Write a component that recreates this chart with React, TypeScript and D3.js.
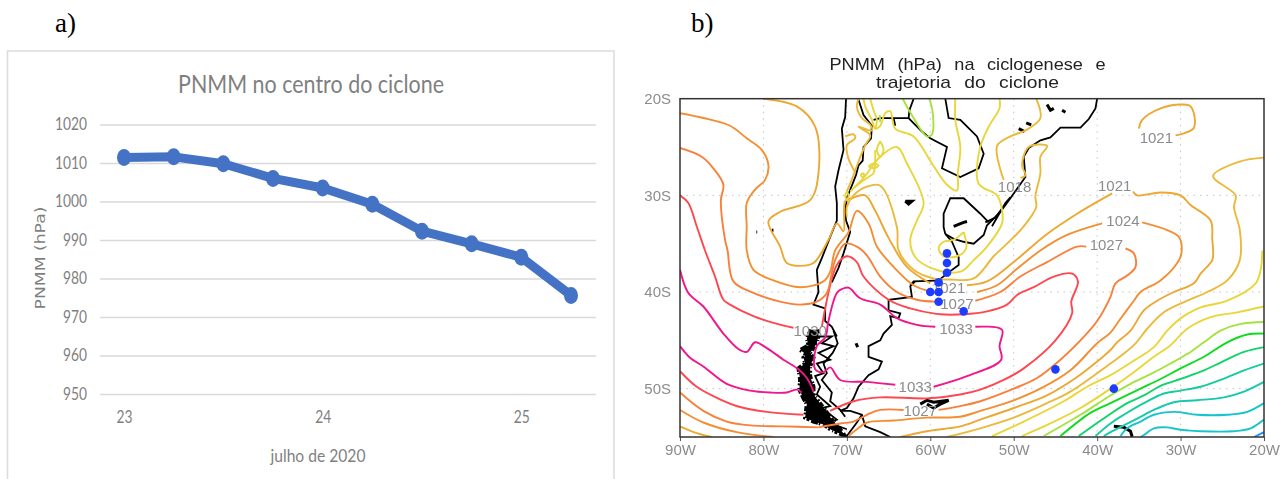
import React, { useEffect, useRef } from "react";
import * as d3 from "d3";

type Pt = [number, number];

// panel a) pressure in the cyclone centre, every 6 h
const timeSteps = [23, 23.25, 23.5, 23.75, 24, 24.25, 24.5, 24.75, 25, 25.25];
const centerPressure = [1011.4, 1011.6, 1009.8, 1006, 1003.5, 999.3, 992.3, 989, 985.5, 975.6];
const pressureTicks = [950, 960, 970, 980, 990, 1000, 1010, 1020];
const dayTicks = [23, 24, 25];

// panel b) cyclone track, lon / lat
const trackLon = [-58, -58, -58, -59, -60, -59, -59, -56, -45, -38];
const trackLat = [-36, -37, -38, -39, -40, -40, -41, -42, -48, -50];
const lonTicks = [-90, -80, -70, -60, -50, -40, -30, -20];
const latTicks = [-20, -30, -40, -50];

// contour labels: text, lon, lat
const contourLabels: [string, number, number][] = [
  ["1021", -32.9, -24], ["1018", -49.9, -29.1], ["1021", -37.9, -29], ["1024", -36.9, -32.6],
  ["1027", -38.9, -35.1], ["1021", -57.8, -39.5], ["1027", -56.8, -41.2], ["1033", -56.9, -43.8],
  ["1033", -61.8, -49.8], ["1027", -61.2, -52.3], ["1030", -74.4, -44],
];

// 1033 hPa
const pinkWest: Pt[] = [[-90, -37.7], [-89, -40.1], [-87.2, -41.5], [-84.8, -44.3], [-83, -45.9], [-82, -46.2], [-81, -45.2], [-79.6, -45.8], [-77.6, -47], [-75.8, -48], [-74.8, -48.9], [-74, -50.3]];
const pinkNorth: Pt[] = [[-72.3, -43.4], [-71.2, -40.1], [-70.6, -39.7], [-69.8, -39.55], [-68.4, -40.65], [-66, -41.3], [-64, -42.7], [-61.6, -43.4], [-59.4, -43.6]];
const pinkEast: Pt[] = [[-54.6, -43.6], [-51.4, -43.9], [-51.7, -45.6], [-51.5, -47], [-55.6, -48.7], [-59.6, -49.8]];
const pinkSouth: Pt[] = [[-64.2, -49.6], [-67.6, -49.3], [-70.8, -49.1], [-72, -47.8], [-72.8, -48.3], [-73.8, -48], [-73.6, -45.6], [-72.6, -44.7], [-72.3, -43.4]];
const pinkSouthWest: Pt[] = [[-90, -45.6], [-88.8, -46.8], [-87.2, -47.7], [-84.4, -49.5], [-81.6, -50.2], [-79.2, -50.4], [-77.2, -50.4], [-76, -50.1], [-75.4, -50.4]];

// 1030 hPa
const redWest: Pt[] = [[-90, -30], [-89, -30.8], [-88, -33.2], [-87, -35.7], [-85.8, -38.4], [-84.8, -40.8], [-84, -41.3], [-81.2, -42.5], [-78.8, -43.2], [-76.4, -43.7]];
const redMain: Pt[] = [[-73, -43.6], [-71.2, -37.2], [-70, -36.3], [-68.8, -36.9], [-68, -38.4], [-65, -40.8], [-62.4, -41.7], [-58.8, -42.3], [-56, -42.3], [-53.2, -42], [-50.8, -41.3], [-49.6, -40.3], [-47.6, -39.5], [-45.2, -38.4], [-43, -38.1], [-42.3, -38.9], [-43.1, -41], [-43, -42.2], [-45, -45], [-48.8, -47.9], [-51.2, -49.1], [-54, -50.1], [-56.4, -50.6], [-60.4, -51], [-66, -50.9], [-69.2, -51.3], [-72, -52.3]];
const redSouthWest: Pt[] = [[-90, -48.2], [-88, -49.8], [-85.2, -51.1], [-82.8, -51.9], [-79.6, -52.4], [-75.2, -52.7]];

// 1027 hPa
const orangeWest: Pt[] = [[-90, -25.1], [-87.4, -26], [-86, -27.2], [-84.8, -28.9], [-85.1, -30.5], [-84.6, -34.6], [-84.3, -35.7], [-83.6, -38.9], [-81.2, -40.1], [-78, -41], [-75.6, -41.3], [-73.6, -41], [-72.4, -40.1], [-71.8, -38], [-71.4, -36.7], [-70.2, -35], [-68.8, -35.3], [-67.6, -36.2], [-66, -38.4], [-64, -40], [-61.6, -40.8], [-59.4, -41]];
const orangeEast: Pt[] = [[-54.6, -40.9], [-51.6, -40], [-49.2, -38.4], [-46, -36.9], [-42.4, -35.3], [-41.3, -35.3]];
const orangeLoop: Pt[] = [[-36.6, -35.5], [-35.6, -36], [-35.4, -37.4], [-36.4, -38.3], [-37.8, -39.1], [-38.4, -40.5], [-40, -43], [-42, -45], [-44.4, -47], [-47.2, -48.9], [-50, -50], [-54, -51.3], [-56.4, -51.8], [-59, -52.2]];
const orangeSouth: Pt[] = [[-63.2, -52.2], [-66, -52.2], [-67.6, -52.7], [-69.2, -53.4], [-70.8, -53.6], [-73.4, -54]];
const orangeSouthWest: Pt[] = [[-90, -50.4], [-87.2, -52.3], [-84.4, -53.4], [-81.6, -53.8], [-77.6, -53.9], [-73.4, -54]];

// 1024 hPa
const darkAmberWest: Pt[] = [[-90, -21.5], [-87.2, -22], [-84, -22.8], [-82, -24.1], [-80.2, -25.3], [-79.4, -26.9], [-79.8, -28.4], [-81, -29.4], [-82, -30.8], [-82, -33.2], [-82, -35.7], [-81.2, -37.7], [-78.8, -38.8], [-75.6, -39.5], [-72.8, -38.9], [-72, -37.9], [-71.4, -35.7], [-69.8, -33.8], [-68.8, -31.6], [-67.4, -32.9], [-66.4, -35.3], [-64.4, -37.4], [-62, -39.3], [-59.8, -40]];
const darkAmberEast: Pt[] = [[-54.4, -40], [-52, -39.3], [-49.6, -37.6], [-46.8, -35.7], [-43.6, -34.1], [-39.4, -32.9]];
const darkAmberLoop: Pt[] = [[-34.6, -32.8], [-31.6, -33.6], [-30.2, -34.3], [-29.9, -36], [-30.4, -37], [-32.4, -38.8], [-34.8, -40], [-35.6, -40.9], [-37.4, -43], [-38.4, -44.2], [-40, -45.3], [-43.2, -48.1], [-46.8, -50], [-50, -51.2], [-54, -52.3], [-56.4, -52.9], [-60.4, -53], [-64.4, -53.3], [-67.6, -53.5], [-68.8, -54.2], [-69.8, -54.9]];
const darkAmberSouthWest: Pt[] = [[-90, -52.2], [-87.2, -53.5], [-83.2, -54.5], [-78.8, -55]];

// 1021 hPa
const amberPacific: Pt[] = [[-80, -20], [-76, -20.8], [-73.8, -22.9], [-73.4, -27.7], [-74.4, -30.5], [-78, -31.7], [-79.4, -32.7], [-78, -35.3], [-77.2, -37], [-75.6, -37.3], [-74, -37], [-72.2, -34.6], [-71.2, -32.9], [-70.4, -33.7], [-70.2, -30.6], [-69.4, -30.3], [-67.8, -30], [-66.6, -31.6], [-65, -34.4], [-62.8, -37.4], [-60, -39.1]];
const amberEast: Pt[] = [[-55.6, -39.3], [-53.2, -38.9], [-50, -36.9], [-46, -34], [-42.4, -31.9], [-38.2, -29.8]];
const amberLoop: Pt[] = [[-35.7, -29.6], [-35.2, -30], [-32.4, -29.7], [-30, -30], [-28.8, -31], [-26.4, -32.6], [-26.2, -34.6], [-26.1, -35.7], [-26.2, -36.7], [-27.6, -38.1], [-28.4, -39.1], [-30.8, -40], [-32.8, -40.9], [-34.4, -41.9], [-36, -44], [-37.6, -45.2], [-38.4, -46], [-40, -47.2], [-42.4, -48.8], [-46, -50.7], [-50, -52], [-54, -53.2], [-56.4, -53.9], [-60.4, -54.4], [-63.6, -55]];
const amberSouthWest: Pt[] = [[-90, -53.9], [-88, -54.6], [-86.2, -55]];
const amberNorthEast: Pt[] = [[-35, -23.1], [-34.6, -22.2], [-32.4, -21], [-30, -20.6], [-28.8, -20.8], [-28.4, -23], [-30.6, -23.8]];

// 1018 hPa
const lightAmberNorth: Pt[] = [[-47.3, -20], [-46.8, -22], [-48.4, -23.2], [-50.4, -23.9], [-52, -24.9], [-51.2, -28.4]];
const lightAmberMain: Pt[] = [[-49.2, -28.2], [-48.6, -27.9], [-49, -26.9], [-48.2, -25], [-46, -24.9], [-46.8, -26], [-46.8, -27.7], [-47.4, -30.1], [-47.3, -31.2], [-48.8, -33.2], [-50.8, -35], [-52.4, -36.3], [-54.8, -38.6], [-57.6, -38.7], [-59.6, -38.6], [-62, -37.7], [-63.8, -35.7], [-64, -33.3], [-66, -29], [-67.6, -29.1], [-69.2, -30], [-70, -31.2], [-70, -32.2]];
const lightAmberAndes: Pt[] = [[-68.6, -20], [-68.8, -20.8], [-68.2, -22], [-67.2, -22.7], [-67, -23.3], [-68.6, -22.9], [-67.2, -23.8], [-67.8, -24.8], [-68.6, -26.5], [-69.2, -27.9], [-70, -29.6]];
const lightAmberPocket: Pt[] = [[-70.2, -23.9], [-69.2, -23.7], [-69, -24.1], [-70, -24.8], [-69.8, -26.2], [-69, -27.6]];
const lightAmberSouthEast: Pt[] = [[-20, -26.1], [-22.9, -26.5], [-26.1, -28], [-23.4, -30], [-23.6, -31.2], [-22.9, -33.6], [-22.9, -36.7], [-24.4, -38.8], [-26.8, -40], [-29.2, -40.9], [-32, -42.1], [-34, -43.8], [-35.6, -45.5], [-38.4, -47.4], [-40, -48.4], [-43.2, -50.3], [-46, -51.5], [-50, -53], [-54, -54.1], [-58, -55]];

// 1015 hPa
const yellowEast: Pt[] = [[-20.2, -35.7], [-20.4, -37.7], [-21, -39.1], [-24.4, -40.9], [-27.6, -41.6], [-29.8, -42.6], [-31.6, -44], [-33.2, -45.7], [-35.6, -47.1], [-38.4, -48.6], [-41.2, -49.8], [-44, -51.3], [-48.8, -53.4], [-52.6, -54.9]];
const yellowMain: Pt[] = [[-51.7, -20], [-51.7, -21], [-53, -22.9], [-54.1, -25.3], [-54.2, -28.8], [-52, -30], [-51.4, -31.5], [-51.4, -32.9], [-53.2, -35.3], [-54.8, -36.7], [-56.4, -37.9], [-59.6, -37.6], [-61.8, -36.4], [-62.4, -34.6], [-61.6, -32.6], [-60.8, -30.8], [-62.8, -26.7], [-64, -25], [-66, -26], [-68, -28.2], [-69.6, -29.6]];
const yellowNorth: Pt[] = [[-68, -20], [-67.8, -20.8], [-67, -22.2], [-66.6, -23.1], [-66, -22.8], [-65.4, -21.5], [-64.8, -21.3], [-64.2, -23.1], [-62, -23.9], [-59.8, -26.7], [-58, -28.9], [-56.8, -29.5], [-56.7, -27.7], [-56.4, -25], [-57, -22.2], [-57, -20]];
const yellowNorthBranch: Pt[] = [[-67.2, -20], [-66.8, -21.2], [-66.4, -22.2], [-66.6, -23.1]];
const yellowLoopA: Pt[] = [[-66, -24.4], [-65.6, -25.3], [-66, -26], [-66.4, -25.3], [-66, -24.4]];
const yellowLoopB: Pt[] = [[-67.4, -27], [-66.8, -26.7], [-66.2, -26.9], [-66.8, -27.2], [-67.4, -27]];
const yellowLoopC: Pt[] = [[-68.1, -27.7], [-67.9, -27.9], [-68.1, -28.1], [-68.3, -27.9], [-68.1, -27.7]];
const yellowLoopD: Pt[] = [[-70, -29.6], [-69.8, -30], [-70, -30.5], [-70.2, -30], [-70, -29.6]];
const yellowInner: Pt[] = [[-69, -29.1], [-67.6, -28.2], [-66.8, -27.7], [-66.6, -26.2], [-66.6, -25.3]];
const yellowPlata: Pt[] = [[-56, -33.8], [-55.7, -35.5], [-56.8, -36.3], [-58.4, -36.3], [-59, -35.5], [-58.4, -34.8], [-57.2, -34.6], [-56, -33.8]];
const yellowAtlantic: Pt[] = [[-20, -41.5], [-23.2, -42.1], [-26.4, -42.6], [-29.2, -43.8], [-31.2, -45.5], [-33.2, -46.7], [-35.6, -48.3], [-38.4, -50], [-42, -52], [-45.6, -53.6], [-49, -54.9]];

// lower pressure, south-east corner
const limeAtlantic: Pt[] = [[-20, -43.1], [-22.8, -43.3], [-25.2, -44], [-27.2, -45.2], [-28.8, -46.2], [-31.2, -47.4], [-33.6, -48.5], [-36, -49.5], [-38.4, -50.7], [-42, -52.7], [-46.4, -54.9]];
const limeNorth: Pt[] = [[-63.3, -20], [-62.2, -21.7], [-60.4, -23.9], [-59.8, -23.7], [-59.7, -21.5], [-60.1, -20]];
const limeSpot: Pt[] = [[-66.05, -21.7], [-66, -22.4]];
const greenA: Pt[] = [[-20, -44.3], [-22, -44.4], [-24.4, -45.2], [-27.2, -46.7], [-30, -47.9], [-32.4, -49], [-34.8, -50], [-38.4, -51.5], [-40.8, -52.5], [-44.4, -54.9]];
const greenB: Pt[] = [[-20, -45.7], [-22.4, -46.2], [-25.2, -47.3], [-27.2, -48.1], [-30, -49], [-32.4, -49.7], [-34.4, -50.7], [-36.4, -51.5], [-38.4, -52.6], [-42.2, -54.9]];
const tealA: Pt[] = [[-20, -47.4], [-22.4, -48.1], [-25.2, -49.1], [-27.6, -49.8], [-30, -50.2], [-32, -50.5], [-34.4, -51.5], [-36.8, -52.7], [-38.4, -53.6], [-40.2, -54.9]];
const tealB: Pt[] = [[-20, -49.3], [-22.4, -50.3], [-24.8, -50.9], [-28, -51.2], [-30.8, -51.4], [-33.2, -52.2], [-35.2, -53.1], [-36.8, -53.8], [-38.4, -54.5], [-39.2, -54.9]];
const cyanA: Pt[] = [[-20, -51.5], [-22, -52.4], [-24.4, -52.7], [-28, -52.7], [-30.8, -52.4], [-33.2, -52.7], [-34.8, -53.4], [-36.4, -54.1], [-37.2, -54.9]];
const cyanB: Pt[] = [[-20, -53.2], [-21.6, -54.1], [-23.6, -54.4], [-27.6, -54.4], [-30.4, -54.2], [-31.6, -54], [-33.2, -54.1], [-34.4, -54.8], [-34.8, -55]];
const blueCorner: Pt[] = [[-20, -54.5], [-21.2, -55]];

const contourGroups: { color: string; lines: Pt[][] }[] = [
  { color: "#f0148c", lines: [pinkWest, pinkNorth, pinkEast, pinkSouth, pinkSouthWest] },
  { color: "#ff4650", lines: [redWest, redMain, redSouthWest] },
  { color: "#f9803a", lines: [orangeWest, orangeEast, orangeLoop, orangeSouth, orangeSouthWest] },
  { color: "#f38e32", lines: [darkAmberWest, darkAmberEast, darkAmberLoop, darkAmberSouthWest] },
  { color: "#eca832", lines: [amberPacific, amberEast, amberLoop, amberSouthWest, amberNorthEast] },
  { color: "#ebb93a", lines: [lightAmberNorth, lightAmberMain, lightAmberAndes, lightAmberPocket, lightAmberSouthEast] },
  { color: "#e8d63a", lines: [yellowEast, yellowMain, yellowNorth, yellowNorthBranch, yellowLoopA, yellowLoopB, yellowLoopC, yellowLoopD, yellowInner, yellowPlata, yellowAtlantic] },
  { color: "#a6e23e", lines: [limeAtlantic, limeNorth, limeSpot] },
  { color: "#10dc1e", lines: [greenA] },
  { color: "#10d468", lines: [greenB] },
  { color: "#14cc9e", lines: [tealA] },
  { color: "#14c8ae", lines: [tealB] },
  { color: "#18c4cc", lines: [cyanA, cyanB] },
  { color: "#1e90ff", lines: [blueCorner] },
];

// coastlines and borders
const chileCoast: Pt[] = [[-70.1, -20], [-70.2, -21.9], [-70.6, -23.1], [-70.4, -25.3], [-71, -27.4], [-71.4, -29.1], [-71.2, -30.8], [-71.2, -32.6], [-72, -34.3], [-73, -36.5], [-73.6, -37.7], [-73.4, -40], [-74, -41.3], [-72.6, -41.7], [-72.6, -43], [-71.8, -43.6], [-71.2, -44.6]];
const andesBorder: Pt[] = [[-68.6, -20.1], [-68, -21.7], [-67, -22.8], [-67.1, -24.1], [-68, -25], [-68.1, -26.4], [-68.6, -26.9], [-68.9, -27.9], [-70, -30.3], [-70.2, -31.7], [-70.1, -32.6], [-69.6, -33.8], [-70.4, -36], [-71, -37.5], [-71.8, -39]];
const brazilCoast: Pt[] = [[-40, -20], [-40.2, -21], [-41, -22.1], [-42, -23], [-44.4, -23], [-45.6, -24], [-46.8, -24.3], [-48.2, -25.1], [-48.8, -26], [-48.6, -28.1], [-50.4, -30.3], [-51.6, -31.7], [-53.2, -33.1], [-53.6, -34.1], [-54.8, -35], [-56, -34.8], [-57.2, -34.5], [-58.2, -34]];
const argentinaCoast: Pt[] = [[-58.2, -34], [-57.4, -34.8], [-57, -35.6], [-56.6, -36.4], [-56.6, -37.2], [-58, -38.1], [-59, -38.8], [-62, -38.9], [-62.4, -39.3], [-61.8, -38.9], [-62.4, -39.4], [-62.2, -40.5], [-65, -40.8], [-65, -41.9], [-63.6, -42.2], [-63.8, -42.7], [-64.8, -42.5], [-64.6, -43.4], [-65.6, -44.3], [-66, -45], [-67.4, -45.6], [-67.4, -46.7], [-65.8, -47.2], [-66.2, -48], [-67.4, -48.6], [-68.6, -49.8], [-69.2, -51], [-70, -52], [-70.8, -52.3], [-69.6, -52.3], [-68.2, -52.7], [-67.8, -53.9], [-66, -54.5], [-64.8, -55]];
const fuegoSouth: Pt[] = [[-68.2, -52.7], [-68.8, -53.5], [-70, -54.9]];
const boliviaBorder: Pt[] = [[-66.8, -22.2], [-66, -22], [-64.4, -22], [-64.2, -22.8], [-64.4, -22], [-62.6, -22], [-62.5, -21.2], [-62, -20]];
const paraguayBorder: Pt[] = [[-62.6, -22], [-61, -23.4], [-60, -24.1], [-58, -25], [-58.6, -27.2], [-56.4, -28.1], [-54.2, -27.2], [-53.6, -25.7], [-54.4, -23.9], [-56.4, -22.2], [-57.8, -22], [-58.2, -20]];
const uruguayBorder: Pt[] = [[-58.2, -34], [-58.4, -33.3], [-58.4, -31.9], [-57.6, -30.3], [-56, -30.3], [-54, -31.9], [-53, -32.8]];
const patosLagoon: Pt[] = [[-53.4, -32.8], [-52.2, -32.3], [-50.4, -30.2], [-51, -30.8], [-52.6, -33.2]];
const patagoniaBlob: Pt[] = [[-74.3, -43.9], [-74.8, -44.8], [-74.6, -45.5], [-75.6, -46], [-74.8, -46.5], [-75.2, -46.8], [-75, -47.4], [-75.8, -47.9], [-75.6, -49.1], [-75.7, -50.1], [-75.2, -51], [-74.8, -51.6], [-75, -53], [-74, -53.4], [-72.8, -53.7], [-72, -54.2], [-70.2, -54.9], [-70.8, -54.2], [-71.6, -53.4], [-72.2, -52.7], [-72.6, -52.2], [-73.4, -51.3], [-74, -50.6], [-74, -49.8], [-74.4, -48.7], [-74.4, -47.7], [-74, -46.8], [-74.4, -46.3], [-73.6, -45.3], [-73.4, -44.4], [-73.6, -43.9]];
const patagoniaIslands: Pt[] = [[-73.4, -44.6], [-71.8, -44.6], [-73, -45.3], [-71.6, -45.6], [-73.4, -46.3], [-72, -47], [-73.6, -47.4], [-72.8, -48.4], [-73.8, -48.7], [-73.2, -49.8], [-73.6, -50.6], [-72, -51.8], [-73, -52], [-71.2, -53.2], [-72.2, -53.5], [-70, -54.2]];
const patagoniaCoast: Pt[] = [[-71.6, -44], [-71.1, -45.3], [-71.7, -46.3], [-72.8, -47.4], [-72.4, -48.4], [-73, -49.1], [-71.8, -50.4], [-72, -51.3], [-70.8, -52.2], [-70.2, -52.9]];
const falklands: Pt[] = [[-61.2, -51.6], [-60.4, -51.2], [-59.6, -51.4], [-57.8, -51.2], [-58.8, -51.6], [-59.6, -52], [-60.4, -51.6]];
const southGeorgia: Pt[] = [[-38, -53.9], [-36.8, -54], [-36, -54.4], [-35.8, -55]];
const brazilIsletA: Pt[] = [[-46, -20.6], [-45.6, -21.2], [-45.2, -21]];
const brazilIsletB: Pt[] = [[-48.5, -22.5], [-47.9, -22.7]];
const brazilIsletC: Pt[] = [[-49.4, -23.1], [-48.7, -23.4]];
const brazilIsletD: Pt[] = [[-44.2, -21.2], [-43.8, -21.4]];
const mirimLake: Pt[] = [[-57.2, -33.2], [-56, -32.8], [-55.6, -32.7]];
const colhueLake: Pt[] = [[-68.9, -45.3], [-68.7, -45.7]];
const salinasLake: Pt[] = [[-63, -30.6], [-62.2, -30.6], [-62.6, -30.9], [-63, -30.6]];
const fernandezA: Pt[] = [[-80.85, -33.8], [-80.75, -33.8]];
const fernandezB: Pt[] = [[-79, -33.6], [-78.8, -33.6]];

const coastLines: Pt[][] = [chileCoast, andesBorder, brazilCoast, argentinaCoast, fuegoSouth, boliviaBorder, paraguayBorder, uruguayBorder, patosLagoon, patagoniaIslands, patagoniaCoast];
const thickSpecks: Pt[][] = [falklands, southGeorgia, brazilIsletA, brazilIsletB, brazilIsletC, brazilIsletD, mirimLake, colhueLake, salinasLake, fernandezA, fernandezB];

const serif = "'Liberation Serif', serif";
const calibriLike = "Lato, 'Open Sans', sans-serif";
const gradsFont = "'Liberation Sans', Arial, sans-serif";

export default function App() {
  const ref = useRef<SVGSVGElement>(null);

  useEffect(() => {
    const svg = d3.select(ref.current);
    svg.selectAll("*").remove();

    // panel letters
    svg.append("text").attr("x", 55).attr("y", 32).attr("font-family", serif).attr("font-size", 27).text("a)");
    svg.append("text").attr("x", 691).attr("y", 32).attr("font-family", serif).attr("font-size", 27).text("b)");

    // ---- panel a
    svg.append("path").attr("d", "M7.5,481V51H614V481").attr("fill", "none").attr("stroke", "#dcdcdc").attr("stroke-width", 1.5);

    const x = d3.scaleLinear().domain([23, 25.25]).range([124, 571]);
    const y = d3.scaleLinear().domain([950, 1020]).range([394, 124.5]);

    const yAxis = svg.append("g").attr("transform", "translate(100,0)")
      .call(d3.axisLeft(y).tickValues(pressureTicks).tickFormat(d3.format("d")).tickSize(-496).tickPadding(13));
    yAxis.select(".domain").remove();
    yAxis.selectAll(".tick line").attr("stroke", "#d9d9d9").attr("stroke-width", 1.5);
    yAxis.selectAll("text").attr("font-family", calibriLike).attr("font-size", 17).attr("fill", "#7f7f7f")
      .attr("lengthAdjust", "spacingAndGlyphs").attr("textLength", (d: any) => (d >= 1000 ? 32 : 24));

    const xAxis = svg.append("g").attr("transform", "translate(0,394)")
      .call(d3.axisBottom(x).tickValues(dayTicks).tickFormat(d3.format("d")).tickSize(0).tickPadding(17));
    xAxis.select(".domain").remove();
    xAxis.selectAll("text").attr("font-family", calibriLike).attr("font-size", 17).attr("fill", "#7f7f7f")
      .attr("lengthAdjust", "spacingAndGlyphs").attr("textLength", 16);

    svg.append("text").attr("x", 311).attr("y", 93).attr("text-anchor", "middle")
      .attr("font-family", calibriLike).attr("font-size", 25).attr("fill", "#7f7f7f")
      .attr("textLength", 266).attr("lengthAdjust", "spacingAndGlyphs").text("PNMM no centro do ciclone");
    svg.append("text").attr("x", 318).attr("y", 462).attr("text-anchor", "middle")
      .attr("font-family", calibriLike).attr("font-size", 17).attr("fill", "#7f7f7f")
      .attr("textLength", 95).attr("lengthAdjust", "spacingAndGlyphs").text("julho de 2020");
    svg.append("text").attr("transform", "translate(45,258) rotate(-90)").attr("text-anchor", "middle")
      .attr("font-family", "'DejaVu Sans', sans-serif").attr("font-size", 14).attr("fill", "#7f7f7f")
      .attr("textLength", 103).attr("lengthAdjust", "spacingAndGlyphs").text("PNMM (hPa)");

    const series = timeSteps.map((t, i) => [t, centerPressure[i]] as Pt);
    svg.append("path").attr("d", d3.line().x((d) => x(d[0])).y((d) => y(d[1]))(series))
      .attr("fill", "none").attr("stroke", "#4472c4").attr("stroke-width", 9).attr("stroke-linejoin", "round");
    svg.append("g").selectAll("ellipse").data(series).join("ellipse")
      .attr("cx", (d) => x(d[0])).attr("cy", (d) => y(d[1])).attr("rx", 7).attr("ry", 8.5).attr("fill", "#4472c4");

    // ---- panel b
    const lon = d3.scaleLinear().domain([-90, -20]).range([680, 1264]);
    const lat = d3.scaleLinear().domain([-20, -55]).range([98.7, 437]);
    const geo = d3.line<Pt>().x((d) => lon(d[0])).y((d) => lat(d[1]));
    const smooth = d3.line<Pt>().x((d) => lon(d[0])).y((d) => lat(d[1])).curve(d3.curveCatmullRom.alpha(0.5));

    const map = svg.append("g").attr("filter", "url(#soft)");
    const defs = svg.append("defs");
    defs.append("filter").attr("id", "soft").attr("x", "-5%").attr("y", "-5%").attr("width", "110%").attr("height", "110%")
      .append("feGaussianBlur").attr("stdDeviation", 0.4);
    defs.append("clipPath").attr("id", "mapClip").append("rect")
      .attr("x", lon(-90)).attr("y", lat(-20)).attr("width", lon(-20) - lon(-90)).attr("height", lat(-55) - lat(-20));

    const xGrid = map.append("g").attr("stroke", "#c4c4c4").attr("stroke-dasharray", "1.5 5");
    lonTicks.slice(1, -1).forEach((d) => xGrid.append("line").attr("x1", lon(d)).attr("x2", lon(d)).attr("y1", lat(-20)).attr("y2", lat(-55)));
    latTicks.slice(1).forEach((d) => xGrid.append("line").attr("x1", lon(-90)).attr("x2", lon(-20)).attr("y1", lat(d)).attr("y2", lat(d)));

    const inner = map.append("g").attr("clip-path", "url(#mapClip)");
    // fjords: a dark core with a broken outline so the edge stays rough
    inner.append("path").attr("d", geo(patagoniaBlob)).attr("fill", "#000");
    inner.append("path").attr("d", geo(patagoniaBlob)).attr("fill", "none").attr("stroke", "#000").attr("stroke-width", 4).attr("stroke-dasharray", "5 1.5 2 2.5 1 1.5 3 2 7 1 1.5 3");
    coastLines.forEach((c) => inner.append("path").attr("d", geo(c)).attr("fill", "none").attr("stroke", "#000").attr("stroke-width", 1.8));
    thickSpecks.forEach((c) => inner.append("path").attr("d", geo(c)).attr("fill", "none").attr("stroke", "#000").attr("stroke-width", 3));

    contourGroups.forEach((g) => g.lines.forEach((l) =>
      inner.append("path").attr("d", smooth(l)).attr("fill", "none").attr("stroke", g.color).attr("stroke-width", 1.9)));

    map.append("g").selectAll("text").data(contourLabels).join("text")
      .attr("x", (d) => lon(d[1])).attr("y", (d) => lat(d[2]) + 5.5).attr("text-anchor", "middle")
      .attr("font-family", gradsFont).attr("font-size", 15).attr("fill", "#8c8c8c").text((d) => d[0]);

    map.append("g").selectAll("circle").data(trackLon).join("circle")
      .attr("cx", (d) => lon(d)).attr("cy", (_, i) => lat(trackLat[i])).attr("r", 4.3).attr("fill", "#1e3cff");

    const bottomAxis = map.append("g").attr("transform", `translate(0,${lat(-55)})`)
      .call(d3.axisBottom(lon).tickValues(lonTicks).tickFormat((d) => `${-d}W`).tickSize(4).tickPadding(3));
    bottomAxis.select(".domain").remove();
    bottomAxis.selectAll("line").attr("stroke", "#555");
    bottomAxis.selectAll("text").attr("font-family", gradsFont).attr("font-size", 15).attr("fill", "#8c8c8c");

    const leftAxis = map.append("g").attr("transform", `translate(${lon(-90)},0)`)
      .call(d3.axisLeft(lat).tickValues(latTicks).tickFormat((d) => `${-d}S`).tickSize(0).tickPadding(9));
    leftAxis.select(".domain").remove();
    leftAxis.selectAll("text").attr("font-family", gradsFont).attr("font-size", 15).attr("fill", "#8c8c8c");

    map.append("rect").attr("x", lon(-90)).attr("y", lat(-20)).attr("width", lon(-20) - lon(-90)).attr("height", lat(-55) - lat(-20))
      .attr("fill", "none").attr("stroke", "#333").attr("stroke-width", 1.5);

    const titleLines: [string, number, number][] = [
      ["PNMM (hPa) na ciclogenese e", 70, 276],
      ["trajetoria do ciclone", 88, 183],
    ];
    titleLines.forEach(([t, yy, w]) =>
      map.append("text").attr("x", 967.5).attr("y", yy).attr("text-anchor", "middle")
        .attr("font-family", gradsFont).attr("font-size", 17).attr("word-spacing", 7).attr("fill", "#222")
        .attr("textLength", w).attr("lengthAdjust", "spacingAndGlyphs").text(t));
  }, []);

  return (
    <svg
      ref={ref}
      width={1283}
      height={479}
      style={{ position: "absolute", left: 0, top: 0, background: "#fff", display: "block" }}
    />
  );
}
